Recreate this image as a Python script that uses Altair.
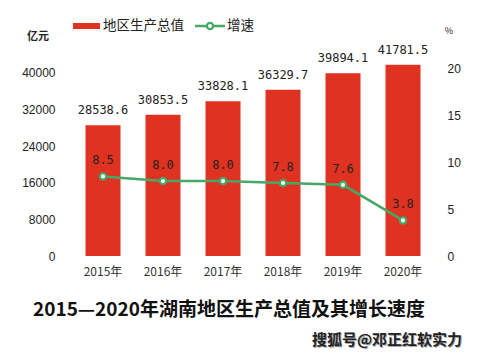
import altair as alt
import pandas as pd

years = ["2015年", "2016年", "2017年", "2018年", "2019年", "2020年"]
gdp = [28538.6, 30853.5, 33828.1, 36329.7, 39894.1, 41781.5]
growth = [8.5, 8.0, 8.0, 7.8, 7.6, 3.8]
gdp_labels = ["28538.6", "30853.5", "33828.1", "36329.7", "39894.1", "41781.5"]
growth_labels = ["8.5", "8.0", "8.0", "7.8", "7.6", "3.8"]
left_ticks = [0, 8000, 16000, 24000, 32000, 40000]
right_ticks = [0, 5, 10, 15, 20]

RED = "#e03221"
GREEN = "#45a866"
CJK = "Noto Sans CJK SC"
NUM = "DejaVu Sans Mono"

df = pd.DataFrame({
    "year": years, "gdp": gdp, "growth": growth,
    "gdp_label": gdp_labels, "growth_label": growth_labels,
})

xenc = alt.X("year:N", sort=years, title=None,
             scale=alt.Scale(paddingInner=0.4167, paddingOuter=0.2083),
             axis=alt.Axis(labelAngle=0, domain=False, ticks=False, labelPadding=10,
                           labelFont=CJK, labelFontSize=12, labelColor="#333"))

yl = alt.Y("gdp:Q", title=None, scale=alt.Scale(domain=[0, 45000], nice=False),
           axis=alt.Axis(values=left_ticks, format="d", domain=False, ticks=False, grid=False,
                         labelPadding=18, labelFont="Liberation Sans", labelFontSize=12,
                         labelColor="#222"))
yr = alt.Y("growth:Q", title=None, scale=alt.Scale(domain=[0, 22], nice=False),
           axis=alt.Axis(orient="right", values=right_ticks, format="d", domain=False, ticks=False,
                         grid=False, labelPadding=14, labelFont="Liberation Sans",
                         labelFontSize=12, labelColor="#222"))

base = alt.Chart(df)
bars = base.mark_bar(color=RED).encode(x=xenc, y=yl)
bar_text = base.mark_text(font=NUM, fontSize=12, color="#222", baseline="middle", dy=-15).encode(
    x=alt.X("year:N", sort=years), y=alt.Y("gdp:Q"), text="gdp_label:N")
bar_layer = alt.layer(bars, bar_text)

line = base.mark_line(color=GREEN, strokeWidth=2.5).encode(x=alt.X("year:N", sort=years), y=yr)
pts = base.mark_point(filled=True, fill="white", stroke=GREEN, strokeWidth=2.2, size=40, opacity=1).encode(
    x=alt.X("year:N", sort=years), y=alt.Y("growth:Q"))
line_text = base.mark_text(font=NUM, fontSize=12, color="#222", baseline="middle", dy=-16).encode(
    x=alt.X("year:N", sort=years), y=alt.Y("growth:Q"), text="growth_label:N")
line_layer = alt.layer(line, pts, line_text)

one = alt.Data(values=[{"a": 1}])

def txt(s, x, y, **kw):
    return alt.Chart(one).mark_text(text=s, **kw).encode(x=alt.value(x), y=alt.value(y))

unit_l = txt("亿元", -35, -13, font=CJK, fontSize=11, fontWeight="bold", color="#222")
unit_r = txt("%", 376, -19, font=CJK, fontSize=9, color="#222")
title = txt("2015—2020年湖南地区生产总值及其增长速度", 156, 260, font=CJK, fontSize=19,
            fontWeight="bold", color="#111")
wm_shadow = txt("搜狐号@邓正红软实力", 315, 291, font=CJK, fontSize=15, fontWeight="bold",
                color="#aaaaaa")
wm = txt("搜狐号@邓正红软实力", 314, 290, font=CJK, fontSize=15, fontWeight="bold",
         color="#222")

leg_rect = alt.Chart(one).mark_rect(color=RED).encode(
    x=alt.value(0), x2=alt.value(27), y=alt.value(-27), y2=alt.value(-21))
leg_t1 = txt("地区生产总值", 30, -24, font=CJK, fontSize=13.5, color="#222", align="left")
leg_line = alt.Chart(one).mark_rule(color=GREEN, strokeWidth=2.5).encode(
    x=alt.value(122), x2=alt.value(152), y=alt.value(-24))
leg_pt = alt.Chart(one).mark_point(filled=True, fill="white", stroke=GREEN, strokeWidth=2.2,
                                   size=40, opacity=1).encode(x=alt.value(137), y=alt.value(-24))
leg_t2 = txt("增速", 154, -24, font=CJK, fontSize=13.5, color="#222", align="left")

chart = alt.layer(
    bar_layer, line_layer, unit_l, unit_r, title, wm_shadow, wm,
    leg_rect, leg_t1, leg_line, leg_pt, leg_t2
).resolve_scale(y="independent").properties(
    width=360, height=206, autosize="none",
    padding={"left": 65, "top": 42, "right": 38, "bottom": 93},
).configure_view(stroke=None)

chart.save("out.html", embed_options={"renderer": "svg", "actions": False})
